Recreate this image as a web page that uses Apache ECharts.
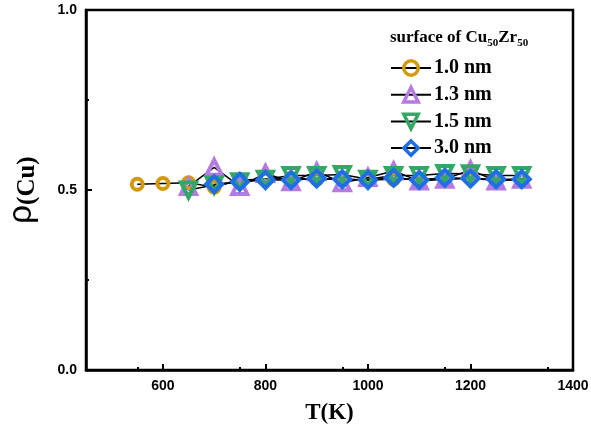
<!DOCTYPE html>
<html>
<head>
<meta charset="utf-8">
<script src="https://cdn.jsdelivr.net/npm/echarts@6/dist/echarts.min.js"></script>
<style>
  html, body { margin: 0; padding: 0; background: #fff; }
  #chart { width: 591px; height: 430px; }
</style>
</head>
<body>
<div id="chart"></div>
<script>
// Temperatures (K) for each film thickness
const tempsA = [550, 600, 650, 700, 750, 800, 850, 900, 950, 1000, 1050, 1100, 1150, 1200, 1250, 1300];
const tempsB = [650, 700, 750, 800, 850, 900, 950, 1000, 1050, 1100, 1150, 1200, 1250, 1300];
const tempsC = [700, 750, 800, 850, 900, 950, 1000, 1050, 1100, 1150, 1200, 1250, 1300];

// Cu fraction at the surface
const rho10 = [0.516, 0.518, 0.520, 0.508, 0.528, 0.530, 0.532, 0.530, 0.530, 0.528, 0.530, 0.530, 0.530, 0.532, 0.527, 0.530];
const rho13 = [0.510, 0.563, 0.510, 0.546, 0.523, 0.551, 0.520, 0.535, 0.553, 0.525, 0.530, 0.556, 0.525, 0.530];
const rho15 = [0.500, 0.514, 0.523, 0.530, 0.540, 0.540, 0.543, 0.530, 0.540, 0.540, 0.546, 0.545, 0.540, 0.540];
const rho30 = [0.516, 0.523, 0.528, 0.528, 0.532, 0.530, 0.528, 0.534, 0.528, 0.534, 0.532, 0.530, 0.530];

const seriesNames = ['1.0 nm', '1.3 nm', '1.5 nm', '3.0 nm'];
const xTicks = [600, 800, 1000, 1200, 1400];
const yTicks = [0.0, 0.5, 1.0];

const pairs = (xs, ys) => xs.map((x, i) => [x, ys[i]]);

const serif = '"Liberation Serif", "Times New Roman", serif';
const sans = '"Liberation Sans", Arial, sans-serif';

function makeSeries(name, data, symbol, rotate, size, color) {
  return {
    name: name,
    type: 'line',
    data: data,
    symbol: symbol,
    symbolRotate: rotate,
    symbolSize: size,
    showAllSymbol: true,
    lineStyle: { color: '#000', width: 1.5 },
    itemStyle: { color: 'rgba(255,255,255,0)', borderColor: color, borderWidth: 4 },
    emphasis: { disabled: true }
  };
}

const chart = echarts.init(document.getElementById('chart'), null, { renderer: 'canvas' });
chart.setOption({
  animation: false,
  backgroundColor: '#fff',
  grid: {
    left: 86, right: 18, top: 10, bottom: 60,
    containLabel: false, outerBoundsMode: 'none',
    show: true, borderColor: '#000', borderWidth: 2.5
  },
  title: {
    left: 385, top: 22,
    text: '{a|surface of Cu}{s|50}{a|Zr}{s|50}',
    textStyle: {
      rich: {
        a: { fontFamily: serif, fontWeight: 'bold', fontSize: 17, lineHeight: 22, color: '#000' },
        s: { fontFamily: serif, fontWeight: 'bold', fontSize: 11, lineHeight: 11, verticalAlign: 'bottom', color: '#000' }
      }
    }
  },
  legend: {
    orient: 'vertical',
    left: 385, top: 53,
    itemWidth: 40, itemHeight: 18, itemGap: 6.7,
    data: seriesNames,
    itemStyle: { borderWidth: 3.5 },
    textStyle: { fontFamily: serif, fontWeight: 'bold', fontSize: 20, color: '#000', lineHeight: 20, padding: [0, 0, 0, -2] }
  },
  xAxis: {
    type: 'value', min: 450, max: 1400, interval: 200,
    name: 'T(K)', nameLocation: 'middle', nameGap: 32,
    nameTextStyle: { fontFamily: serif, fontWeight: 'bold', fontSize: 23, color: '#000' },
    axisLine: { show: true, lineStyle: { color: '#000', width: 2.5 } },
    axisTick: { show: true, inside: true, length: 6, lineStyle: { color: '#000', width: 2 }, customValues: xTicks },
    minorTick: { show: true, splitNumber: 2, length: 3, lineStyle: { color: '#000', width: 2 } },
    axisLabel: { fontFamily: sans, fontWeight: 'bold', fontSize: 14, color: '#000', margin: 9, customValues: xTicks, formatter: v => String(v) },
    splitLine: { show: false }
  },
  yAxis: {
    type: 'value', min: 0, max: 1, interval: 0.5,
    name: '{r|ρ}{c|(Cu)}', nameLocation: 'middle', nameGap: 46, nameRotate: 90,
    nameTextStyle: {
      rich: {
        r: { fontFamily: sans, fontSize: 33, color: '#000', lineHeight: 36 },
        c: { fontFamily: serif, fontWeight: 'bold', fontSize: 25, color: '#000', lineHeight: 32, verticalAlign: 'bottom' }
      }
    },
    axisLine: { show: true, lineStyle: { color: '#000', width: 2.5 } },
    axisTick: { show: true, inside: true, length: 6, lineStyle: { color: '#000', width: 2 } },
    minorTick: { show: true, splitNumber: 2, length: 3, lineStyle: { color: '#000', width: 2 } },
    axisLabel: { fontFamily: sans, fontWeight: 'bold', fontSize: 14, color: '#000', margin: 9, formatter: v => v.toFixed(1) },
    splitLine: { show: false }
  },
  series: [
    makeSeries(seriesNames[0], pairs(tempsA, rho10), 'circle', 0, 11, '#D29A0C'),
    makeSeries(seriesNames[1], pairs(tempsB, rho13), 'triangle', 0, 15, '#B57BE0'),
    makeSeries(seriesNames[2], pairs(tempsB, rho15), 'triangle', 180, 15, '#33A866'),
    makeSeries(seriesNames[3], pairs(tempsC, rho30), 'diamond', 0, 16, '#1F6FE3')
  ]
});
</script>
</body>
</html>
